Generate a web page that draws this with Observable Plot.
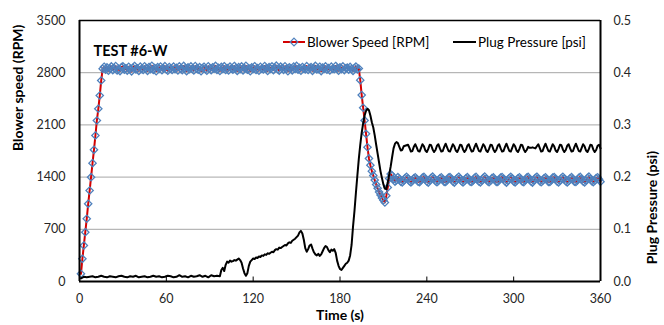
<!DOCTYPE html>
<html>
<head>
<meta charset="utf-8">
<script src="https://cdn.jsdelivr.net/npm/d3@7"></script>
<script src="https://cdn.jsdelivr.net/npm/@observablehq/plot@0.6"></script>
<style>
  html, body { margin: 0; padding: 0; background: #fff; }
  #chart { width: 664px; height: 325px; }
</style>
</head>
<body>
<div id="chart"></div>
<script>
// ---- Tick labels / axis settings ----
const xTicks = [0, 60, 120, 180, 240, 300, 360];
const leftTicks = [0, 700, 1400, 2100, 2800, 3500];
const rightTicks = [0.0, 0.1, 0.2, 0.3, 0.4, 0.5];
const titleText = "TEST #6-W";
const seriesNames = ["Blower Speed [RPM]", "Plug Pressure [psi]"];

// ---- Blower speed (RPM), sampled every second, by segment ----
const blowerRampStart = 1;
const blowerRamp = [103, 304, 483, 661, 841, 1042, 1220, 1399, 1587, 1766, 1958, 2159, 2316, 2494, 2695, 2852];
const blowerPlateauStart = 17;
const blowerPlateau = [
  2880, 2842, 2871, 2826, 2858, 2884, 2835, 2862, 2889, 2831,
  2853, 2822, 2874, 2885, 2840, 2860, 2828, 2879, 2850, 2818,
  2866, 2890, 2845, 2857, 2824, 2881, 2852, 2836, 2886, 2859,
  2825, 2877, 2849, 2893, 2838, 2863, 2820, 2874, 2851, 2883,
  2833, 2858, 2888, 2843, 2826, 2877, 2854, 2837, 2882, 2848,
  2865, 2829, 2885, 2852, 2835, 2891, 2860, 2821, 2871, 2846,
  2884, 2851, 2830, 2889, 2857, 2840, 2875, 2819, 2863, 2880,
  2849, 2827, 2886, 2859, 2834, 2873, 2853, 2892, 2838, 2866,
  2823, 2878, 2850, 2887, 2836, 2861, 2829, 2882, 2855, 2842,
  2890, 2859, 2824, 2874, 2848, 2884, 2831, 2862, 2893, 2840,
  2857, 2820, 2872, 2851, 2887, 2836, 2861, 2827, 2879, 2853,
  2843, 2889, 2858, 2823, 2874, 2850, 2885, 2834, 2866, 2894,
  2848, 2828, 2881, 2861, 2838, 2886, 2853, 2820, 2872, 2857,
  2832, 2883, 2851, 2891, 2841, 2864, 2826, 2877, 2854, 2845,
  2888, 2837, 2861, 2874, 2825, 2858, 2892, 2843, 2849, 2880,
  2822, 2869, 2852, 2885, 2839, 2863, 2830, 2881, 2851, 2846,
  2890, 2857, 2827, 2872, 2849, 2884, 2835, 2860, 2868, 2841,
  2878, 2851, 2824, 2863, 2882, 2845, 2856
];
const blowerDropStart = 194;
const blowerDrop = [
  2700, 2500, 2330, 2160, 1980, 1800, 1650, 1560, 1480, 1420,
  1360, 1300, 1250, 1200, 1160, 1120, 1090, 1060,
  1150, 1260, 1380, 1440, 1420, 1370, 1340, 1360
];
const blowerSettledStart = 220;
const blowerSettled = [
  1400, 1372, 1340, 1328, 1352, 1388,
  1404, 1380, 1345, 1330, 1349, 1383,
  1398, 1376, 1338, 1333, 1358, 1392,
  1402, 1371, 1342, 1326, 1355, 1390,
  1406, 1378, 1347, 1331, 1350, 1385,
  1397, 1369, 1336, 1335, 1360, 1394,
  1400, 1374, 1343, 1327, 1353, 1387,
  1405, 1381, 1344, 1329, 1348, 1384,
  1399, 1373, 1339, 1334, 1357, 1391,
  1403, 1370, 1341, 1328, 1354, 1389,
  1407, 1377, 1346, 1332, 1351, 1386,
  1396, 1368, 1337, 1336, 1361, 1393,
  1401, 1375, 1344, 1326, 1352, 1388,
  1404, 1382, 1343, 1330, 1349, 1383,
  1398, 1372, 1340, 1333, 1358, 1392,
  1402, 1371, 1342, 1327, 1355, 1390,
  1405, 1379, 1347, 1331, 1350, 1385,
  1397, 1369, 1336, 1334, 1360, 1394,
  1400, 1374, 1343, 1328, 1353, 1387,
  1404, 1380, 1345, 1329, 1348, 1384,
  1399, 1373, 1339, 1334, 1357, 1391,
  1403, 1370, 1341, 1328, 1354, 1389,
  1406, 1377, 1346, 1332, 1351, 1386,
  1398, 1370, 1338
];

// ---- Plug pressure (psi), by segment ----
const pressBaseStart = 1, pressBaseStep = 2;
const pressBase = [
  0.006, 0.009, 0.008, 0.009, 0.010, 0.008, 0.009, 0.011, 0.009, 0.008,
  0.010, 0.009, 0.008, 0.010, 0.011, 0.009, 0.008, 0.010, 0.009, 0.011,
  0.008, 0.009, 0.010, 0.008, 0.009, 0.011, 0.009, 0.010, 0.008, 0.009,
  0.011, 0.010, 0.008, 0.009, 0.012, 0.009, 0.010, 0.008, 0.011, 0.009,
  0.010, 0.012, 0.009, 0.011, 0.008, 0.012, 0.010, 0.011, 0.010
];
const pressMidStart = 98;
const pressMid = [
  0.022, 0.026, 0.020, 0.032, 0.038, 0.036, 0.040, 0.038, 0.039, 0.041,
  0.040, 0.042, 0.044, 0.041, 0.036, 0.025, 0.016, 0.011, 0.016, 0.030,
  0.038, 0.041, 0.044, 0.043, 0.046, 0.045, 0.048, 0.047, 0.050, 0.049,
  0.052, 0.051, 0.054, 0.053, 0.055, 0.057, 0.056, 0.060, 0.062, 0.061,
  0.065, 0.064, 0.066, 0.068, 0.070, 0.069, 0.073, 0.075, 0.074, 0.078,
  0.080, 0.082, 0.085, 0.088, 0.094, 0.097, 0.092, 0.080, 0.064, 0.057,
  0.062, 0.069, 0.071, 0.063, 0.056, 0.052, 0.050, 0.053, 0.049, 0.052,
  0.058, 0.064, 0.068, 0.066, 0.060, 0.056, 0.061, 0.059, 0.062, 0.055,
  0.040, 0.030, 0.024, 0.022, 0.026, 0.030, 0.034, 0.036, 0.040, 0.050,
  0.070, 0.105, 0.135, 0.170, 0.203, 0.235, 0.262, 0.285, 0.303, 0.318,
  0.327, 0.331, 0.328, 0.318, 0.305, 0.295, 0.280, 0.262, 0.245, 0.228,
  0.211, 0.198, 0.186, 0.178, 0.177, 0.190, 0.205, 0.220, 0.238, 0.255,
  0.264, 0.267, 0.265, 0.258, 0.251, 0.252, 0.259
];
const pressSettledStart = 227;
const pressSettled = [
  0.262, 0.256, 0.249, 0.250, 0.258, 0.263, 0.257, 0.250, 0.249, 0.256,
  0.263, 0.259, 0.251, 0.248, 0.254, 0.262, 0.261, 0.253, 0.248, 0.252,
  0.260, 0.263, 0.255, 0.249, 0.250, 0.258, 0.264, 0.257, 0.250, 0.249,
  0.256, 0.263, 0.259, 0.251, 0.248, 0.254, 0.262, 0.261, 0.253, 0.248,
  0.252, 0.260, 0.263, 0.255, 0.249, 0.250, 0.258, 0.264, 0.257, 0.250,
  0.249, 0.256, 0.263, 0.259, 0.251, 0.248, 0.254, 0.262, 0.261, 0.253,
  0.248, 0.252, 0.260, 0.263, 0.255, 0.249, 0.250, 0.258, 0.264, 0.257,
  0.250, 0.249, 0.256, 0.263, 0.259, 0.251, 0.248, 0.254, 0.262, 0.261,
  0.253, 0.248, 0.252, 0.258, 0.256, 0.256, 0.257, 0.256, 0.255, 0.259,
  0.263, 0.256, 0.249, 0.250, 0.258, 0.264, 0.257, 0.250, 0.249, 0.256,
  0.263, 0.259, 0.251, 0.248, 0.254, 0.262, 0.261, 0.253, 0.248, 0.252,
  0.260, 0.263, 0.255, 0.249, 0.250, 0.258, 0.264, 0.257, 0.250, 0.249,
  0.256, 0.263, 0.259, 0.251, 0.248, 0.254, 0.262, 0.261, 0.253, 0.248,
  0.252, 0.260, 0.262, 0.255
];

// ---- build tables ----
const seg = (start, step, vals) => vals.map((v, i) => ({t: start + i * step, v}));
const blower = [
  ...seg(blowerRampStart, 1, blowerRamp),
  ...seg(blowerPlateauStart, 1, blowerPlateau),
  ...seg(blowerDropStart, 1, blowerDrop),
  ...seg(blowerSettledStart, 1, blowerSettled)
].filter(d => d.t <= 360);
const pressure = [
  ...seg(pressBaseStart, pressBaseStep, pressBase),
  ...seg(pressMidStart, 1, pressMid),
  ...seg(pressSettledStart, 1, pressSettled)
].filter(d => d.t <= 360);

const rpmPerPsi = 3500 / 0.5;
const font = "Lato, 'Open Sans', sans-serif";

const chart = Plot.plot({
  width: 664,
  height: 325,
  marginLeft: 79,
  marginRight: 64,
  marginTop: 20,
  marginBottom: 44,
  style: {fontFamily: font, fontSize: "12.5px", color: "#262626", background: "#fff", overflow: "visible"},
  x: {domain: [0, 360]},
  y: {domain: [0, 3500]},
  marks: [
    Plot.ruleY(leftTicks.filter(v => v > 0 && v < 3500), {stroke: "#a6a6a6", strokeWidth: 1}),
    Plot.ruleX(xTicks.filter(v => v > 0 && v < 360), {y1: 0, y2: 60, stroke: "#000", strokeWidth: 1}),
    Plot.line(blower, {x: "t", y: "v", stroke: "#d40000", strokeWidth: 2}),
    Plot.dot(blower, {x: "t", y: "v", symbol: "diamond2", r: 3.3, stroke: "#4f81bd", strokeWidth: 1.3, fill: "none"}),
    Plot.line(pressure, {x: "t", y: d => d.v * rpmPerPsi, stroke: "#000", strokeWidth: 2}),
    Plot.ruleY([3500], {stroke: "#000", strokeWidth: 1.5}),
    Plot.ruleY([0], {stroke: "#000", strokeWidth: 2}),
    Plot.ruleX([0, 360], {stroke: "#000", strokeWidth: 2}),
    Plot.axisX({ticks: xTicks, tickSize: 0, tickPadding: 13, label: null, tickFormat: d => String(d)}),
    Plot.axisY({ticks: leftTicks, tickSize: 0, tickPadding: 14, label: null, tickFormat: d => String(d)}),
    Plot.axisY({anchor: "right", ticks: rightTicks.map(v => v * rpmPerPsi), tickSize: 0, tickPadding: 13, label: null,
      tickFormat: v => (v / rpmPerPsi).toFixed(1)}),
    Plot.text([titleText], {frameAnchor: "top-left", text: d => d, dx: 14, dy: 25, textAnchor: "start",
      fontWeight: "bold", fontSize: 14.5, fill: "#000"}),
    Plot.text(["Blower speed (RPM)"], {frameAnchor: "left", text: d => d, dx: -61, rotate: -90,
      fontWeight: "bold", fontSize: 14, fill: "#000"}),
    Plot.text(["Plug Pressure (psi)"], {frameAnchor: "right", text: d => d, dx: 52, rotate: -90,
      fontWeight: "bold", fontSize: 14, fill: "#000"}),
    Plot.text(["Time (s)"], {frameAnchor: "bottom", text: d => d, dy: 38,
      fontWeight: "bold", fontSize: 14, fill: "#000"})
  ]
});

// ---- legend (inside plot area, top) ----
const svg = d3.select(chart);
const lg = svg.append("g").attr("font-family", font).attr("font-size", 13.5)
  .attr("fill", "#000").attr("text-anchor", "start");
const ly = 42;
lg.append("line").attr("x1", 283).attr("x2", 305).attr("y1", ly).attr("y2", ly)
  .attr("stroke", "#d40000").attr("stroke-width", 2);
lg.append("path").attr("d", d3.symbol(d3.symbolDiamond2, 38)())
  .attr("transform", `translate(294,${ly})`).attr("fill", "none").attr("stroke", "#4f81bd").attr("stroke-width", 1.2);
lg.append("text").attr("x", 307).attr("y", ly).attr("dy", "0.35em").attr("text-anchor", "start").text(seriesNames[0]);
lg.append("line").attr("x1", 453).attr("x2", 476).attr("y1", ly).attr("y2", ly)
  .attr("stroke", "#000").attr("stroke-width", 2);
lg.append("text").attr("x", 478).attr("y", ly).attr("dy", "0.35em").attr("text-anchor", "start").text(seriesNames[1]);

document.getElementById("chart").appendChild(chart);
</script>
</body>
</html>
